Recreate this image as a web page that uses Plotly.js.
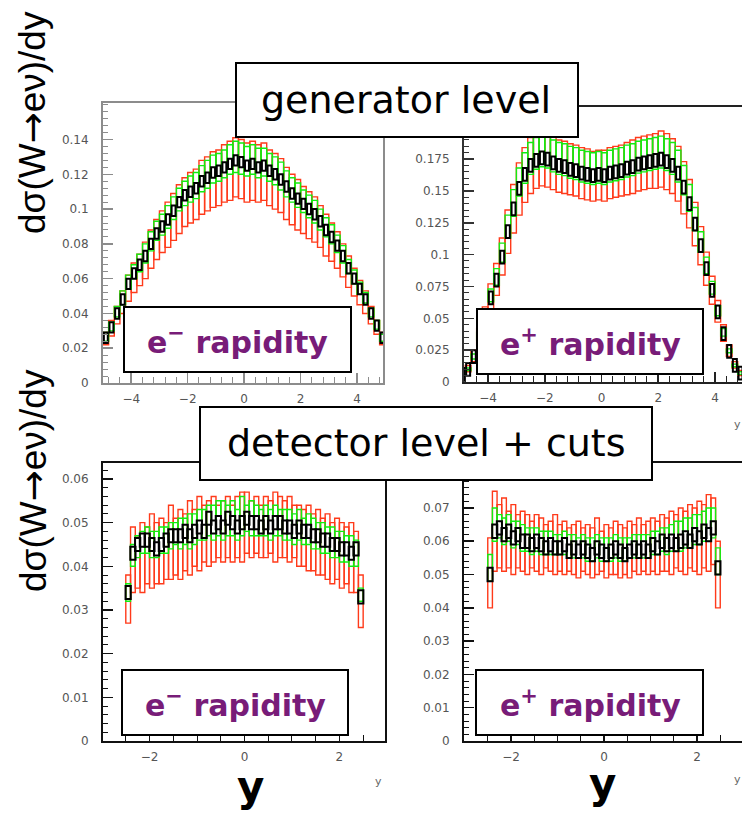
<!DOCTYPE html>
<html>
<head>
<meta charset="utf-8">
<script src="https://cdn.plot.ly/plotly-3.0.1.min.js"></script>
<style>
  html, body { margin: 0; padding: 0; background: #ffffff; }
  #chart { width: 742px; height: 813px; }
</style>
</head>
<body>
<div id="chart"></div>
<script>
// ---------------- DATA ----------------
// bin centres
const binsTop = [-4.9,-4.7,-4.5,-4.3,-4.1,-3.9,-3.7,-3.5,-3.3,-3.1,
                 -2.9,-2.7,-2.5,-2.3,-2.1,-1.9,-1.7,-1.5,-1.3,-1.1,
                 -0.9,-0.7,-0.5,-0.3,-0.1,0.1,0.3,0.5,0.7,0.9,
                 1.1,1.3,1.5,1.7,1.9,2.1,2.3,2.5,2.7,2.9,
                 3.1,3.3,3.5,3.7,3.9,4.1,4.3,4.5,4.7,4.9];
const binsBot = [-2.45,-2.35,-2.25,-2.15,-2.05,-1.95,-1.85,-1.75,-1.65,-1.55,
                 -1.45,-1.35,-1.25,-1.15,-1.05,-0.95,-0.85,-0.75,-0.65,-0.55,
                 -0.45,-0.35,-0.25,-0.15,-0.05,0.05,0.15,0.25,0.35,0.45,
                 0.55,0.65,0.75,0.85,0.95,1.05,1.15,1.25,1.35,1.45,
                 1.55,1.65,1.75,1.85,1.95,2.05,2.15,2.25,2.35,2.45];

// generator level, e- rapidity
const tlCentral = [.026,.032,.040,.048,.057,.063,.068,.073,.080,.086,
                   .090,.094,.099,.104,.108,.110,.112,.116,.118,.121,
                   .122,.124,.126,.128,.127,.125,.126,.124,.125,.122,
                   .120,.117,.113,.109,.106,.103,.100,.097,.093,.088,
                   .084,.079,.073,.066,.060,.054,.048,.040,.033,.026];
const tlRedLo = [.022,.027,.034,.040,.047,.052,.056,.060,.066,.071,
                 .075,.078,.082,.086,.090,.092,.094,.097,.099,.101,
                 .102,.104,.105,.107,.106,.104,.105,.104,.105,.102,
                 .100,.098,.094,.091,.088,.086,.083,.081,.078,.073,
                 .070,.066,.061,.055,.050,.045,.040,.034,.028,.022];
const tlRedHi = [.029,.036,.044,.053,.062,.069,.074,.081,.088,.094,
                 .099,.104,.109,.114,.118,.121,.123,.128,.130,.133,
                 .134,.137,.139,.141,.140,.138,.139,.137,.138,.134,
                 .132,.129,.124,.120,.117,.113,.110,.107,.102,.097,
                 .092,.087,.080,.073,.066,.059,.053,.044,.036,.029];
const tlGreenLo = [.024,.030,.038,.045,.054,.060,.064,.069,.076,.082,
                   .085,.089,.094,.099,.102,.104,.106,.110,.112,.115,
                   .116,.118,.120,.121,.120,.119,.120,.118,.119,.116,
                   .114,.111,.107,.104,.101,.098,.095,.092,.088,.084,
                   .080,.075,.069,.063,.057,.051,.046,.038,.031,.024];
const tlGreenHi = [.029,.035,.044,.053,.062,.068,.074,.080,.087,.093,
                   .097,.102,.107,.112,.116,.119,.121,.125,.128,.131,
                   .132,.134,.137,.139,.138,.136,.137,.135,.135,.132,
                   .130,.127,.122,.118,.115,.111,.108,.105,.100,.095,
                   .091,.085,.079,.071,.065,.058,.052,.043,.036,.028];

// generator level, e+ rapidity
const trCentral = [.006,.010,.020,.035,.050,.066,.080,.098,.118,.136,
                   .152,.163,.170,.174,.176,.175,.172,.170,.169,.167,
                   .166,.164,.163,.162,.163,.162,.164,.165,.166,.168,
                   .169,.171,.172,.173,.174,.175,.173,.170,.164,.153,
                   .140,.124,.107,.089,.072,.055,.038,.024,.013,.007];
const trRedLo = [.004,.008,.016,.029,.042,.056,.068,.084,.101,.117,
                 .131,.141,.148,.152,.154,.153,.151,.149,.148,.147,
                 .146,.144,.143,.142,.143,.142,.144,.145,.146,.147,
                 .148,.150,.151,.152,.152,.153,.151,.148,.142,.132,
                 .121,.107,.092,.076,.061,.047,.032,.020,.011,.005];
const trRedHi = [.008,.013,.025,.042,.059,.077,.093,.113,.135,.155,
                 .172,.184,.192,.196,.198,.196,.193,.190,.189,.187,
                 .186,.184,.183,.181,.182,.182,.184,.185,.186,.188,
                 .190,.192,.193,.194,.195,.197,.195,.191,.185,.173,
                 .159,.141,.122,.102,.083,.064,.045,.029,.016,.009];
const trGreenLo = [.005,.009,.018,.033,.047,.063,.076,.094,.113,.130,
                   .146,.156,.163,.167,.169,.168,.165,.163,.162,.160,
                   .159,.157,.156,.155,.156,.155,.157,.158,.159,.161,
                   .162,.164,.165,.166,.167,.168,.166,.163,.157,.147,
                   .134,.119,.102,.085,.069,.052,.036,.023,.012,.006];
const trGreenHi = [.007,.011,.022,.039,.055,.073,.089,.109,.131,.151,
                   .168,.180,.188,.192,.194,.193,.190,.188,.187,.185,
                   .184,.182,.181,.180,.181,.180,.182,.183,.184,.186,
                   .187,.189,.190,.191,.192,.193,.191,.188,.182,.170,
                   .155,.137,.118,.098,.079,.060,.042,.026,.014,.008];

// detector level + cuts, e- rapidity
const blCentral = [.034,.043,.045,.046,.046,.045,.044,.045,.046,.047,
                   .047,.047,.048,.047,.048,.049,.048,.051,.049,.050,
                   .049,.051,.050,.049,.050,.051,.050,.050,.049,.050,
                   .049,.050,.050,.049,.049,.048,.049,.048,.048,.047,
                   .047,.046,.046,.045,.045,.044,.044,.043,.044,.033];
const blRedLo = [.027,.034,.035,.034,.036,.035,.036,.036,.037,.037,
                 .038,.037,.039,.038,.040,.039,.041,.040,.041,.042,
                 .041,.042,.041,.042,.041,.043,.042,.043,.042,.042,
                 .043,.041,.042,.042,.041,.042,.040,.040,.039,.039,
                 .038,.038,.037,.036,.037,.035,.036,.034,.034,.026];
const blRedHi = [.038,.049,.047,.050,.049,.052,.050,.051,.050,.054,
                 .051,.053,.052,.055,.053,.056,.054,.055,.056,.054,
                 .055,.056,.054,.056,.057,.057,.055,.056,.054,.056,
                 .055,.057,.056,.055,.056,.054,.054,.053,.054,.052,
                 .053,.051,.052,.050,.051,.050,.049,.050,.048,.038];
const blGreenLo = [.032,.040,.042,.043,.043,.042,.042,.043,.043,.044,
                   .045,.044,.045,.044,.045,.046,.046,.047,.046,.047,
                   .046,.047,.047,.046,.047,.048,.047,.047,.047,.047,
                   .046,.047,.047,.046,.046,.045,.046,.045,.045,.044,
                   .044,.043,.043,.042,.042,.041,.041,.040,.040,.032];
const blGreenHi = [.036,.045,.047,.048,.049,.048,.048,.049,.049,.050,
                   .050,.051,.051,.052,.052,.053,.053,.054,.054,.055,
                   .055,.054,.055,.053,.056,.054,.055,.054,.053,.054,
                   .053,.054,.053,.053,.053,.052,.053,.051,.052,.051,
                   .050,.050,.049,.049,.048,.048,.047,.047,.046,.035];

// detector level + cuts, e+ rapidity
const brCentral = [.050,.063,.064,.062,.063,.061,.062,.060,.060,.059,
                   .060,.059,.058,.059,.058,.058,.059,.057,.058,.057,
                   .058,.057,.056,.058,.057,.056,.057,.058,.057,.056,
                   .057,.058,.057,.058,.057,.059,.058,.060,.059,.060,
                   .059,.060,.061,.060,.062,.061,.063,.062,.064,.052];
const brRedLo = [.040,.051,.052,.051,.052,.050,.052,.051,.050,.052,
                 .051,.050,.052,.051,.050,.051,.050,.051,.050,.049,
                 .051,.050,.049,.050,.051,.049,.050,.050,.049,.050,
                 .049,.051,.050,.051,.050,.051,.050,.051,.051,.050,
                 .052,.051,.050,.052,.051,.050,.052,.051,.053,.040];
const brRedHi = [.061,.075,.071,.073,.069,.071,.068,.069,.068,.066,
                 .068,.067,.065,.066,.068,.065,.066,.064,.065,.066,
                 .064,.065,.064,.067,.063,.065,.064,.066,.065,.064,
                 .066,.065,.067,.065,.066,.067,.066,.068,.067,.069,
                 .068,.070,.069,.071,.070,.072,.071,.074,.073,.060];
const brGreenLo = [.048,.060,.061,.059,.060,.058,.059,.057,.057,.056,
                   .057,.056,.056,.056,.056,.056,.056,.055,.055,.055,
                   .055,.054,.054,.055,.054,.054,.054,.055,.054,.054,
                   .055,.055,.055,.055,.055,.056,.056,.057,.056,.057,
                   .057,.057,.058,.058,.059,.059,.060,.060,.061,.050];
const brGreenHi = [.056,.070,.068,.067,.068,.066,.066,.065,.064,.064,
                   .064,.063,.063,.063,.062,.062,.063,.062,.062,.061,
                   .062,.061,.061,.062,.061,.061,.061,.062,.061,.061,
                   .061,.062,.062,.062,.062,.063,.063,.064,.064,.065,
                   .066,.066,.067,.067,.068,.068,.069,.070,.070,.058];

// half-height of the black (central) error boxes, per panel
const centralErr = [0.003, 0.005, 0.0015, 0.002];

// labelled y ticks of the generator-level e- panel
const tlYTicks = [0, 0.02, 0.04, 0.06, 0.08, 0.1, 0.12, 0.14];

// texts
const yTitle = 'dσ(W<span style="font-family:DejaVu Sans">→</span>eν)/dy';
const levelLabels = ['generator level', 'detector level + cuts'];
const panelLabels = ['e<sup>−</sup> rapidity', 'e<sup>+</sup> rapidity', 'e<sup>−</sup> rapidity', 'e<sup>+</sup> rapidity'];
const xTitleBig = 'y';

// ---------------- HELPERS ----------------
const W = 742, H = 813;
const PX = p => p / W;
const PY = p => 1 - p / H;
const RED = '#ff3a1a', GREEN = '#11ee11', PURPLE = '#781c78';

function band(bins, lo, hi, width, color, lw, xa, ya) {
  return {
    type: 'bar', x: bins, base: lo, y: hi.map((h, i) => h - lo[i]),
    width: width, xaxis: xa, yaxis: ya, hoverinfo: 'skip',
    marker: { color: 'rgba(0,0,0,0)', line: { color: color, width: lw } }
  };
}
function centralBars(bins, c, err, width, xa, ya) {
  return {
    type: 'bar', x: bins, base: c.map(v => v - err), y: c.map(() => 2 * err),
    width: width, xaxis: xa, yaxis: ya, hoverinfo: 'skip',
    marker: { color: 'rgba(0,0,0,0)', line: { color: '#000', width: 2 } }
  };
}

const traces = [
  band(binsTop, tlRedLo, tlRedHi, 0.2, RED, 1.4, 'x', 'y'),
  band(binsTop, tlGreenLo, tlGreenHi, 0.2, GREEN, 1.4, 'x', 'y'),
  centralBars(binsTop, tlCentral, centralErr[0], 0.14, 'x', 'y'),

  band(binsTop, trRedLo, trRedHi, 0.2, RED, 1.4, 'x2', 'y2'),
  band(binsTop, trGreenLo, trGreenHi, 0.2, GREEN, 1.4, 'x2', 'y2'),
  centralBars(binsTop, trCentral, centralErr[1], 0.14, 'x2', 'y2'),

  band(binsBot, blRedLo, blRedHi, 0.1, RED, 1.4, 'x3', 'y3'),
  band(binsBot, blGreenLo, blGreenHi, 0.1, GREEN, 1.4, 'x3', 'y3'),
  centralBars(binsBot, blCentral, centralErr[2], 0.11, 'x3', 'y3'),

  band(binsBot, brRedLo, brRedHi, 0.1, RED, 1.4, 'x4', 'y4'),
  band(binsBot, brGreenLo, brGreenHi, 0.1, GREEN, 1.4, 'x4', 'y4'),
  centralBars(binsBot, brCentral, centralErr[3], 0.11, 'x4', 'y4')
];

const tickFont = { family: 'DejaVu Sans, sans-serif', size: 12, color: '#555' };

function xAx(domain, range, anchor, lineColor, minorDt) {
  return {
    domain: domain, range: range, anchor: anchor, showgrid: false, zeroline: false,
    showline: true, linecolor: lineColor, linewidth: 2, mirror: true,
    ticks: 'inside', ticklen: 10, tickwidth: 1.5, tickcolor: lineColor,
    tick0: 0, dtick: 2, tickfont: tickFont, ticklabelstandoff: 4,
    minor: { ticks: 'inside', ticklen: 6, dtick: minorDt, tickcolor: lineColor, tickwidth: 1, showgrid: false },
    fixedrange: true
  };
}
function yAx(domain, range, anchor, lineColor, dt, minorDt, mirror) {
  return {
    domain: domain, range: range, anchor: anchor, showgrid: false, zeroline: false,
    showline: true, linecolor: lineColor, linewidth: 2, mirror: mirror,
    ticks: 'inside', ticklen: 10, tickwidth: 1.5, tickcolor: lineColor,
    tick0: 0, dtick: dt, tickfont: tickFont, ticklabelstandoff: 10,
    minor: { ticks: 'inside', ticklen: 5, dtick: minorDt, tickcolor: lineColor, tickwidth: 1, showgrid: false },
    fixedrange: true
  };
}

const topY1 = [PY(383), PY(103)], topY2 = [PY(382), PY(107)], botY = [PY(741), PY(463)];

const yaxis1 = yAx(topY1, [0, 0.161], 'x', '#8c8c8c', 0.02, 0.004, true);
yaxis1.tickmode = 'array';
yaxis1.tickvals = tlYTicks;

const layout = {
  width: W, height: H, margin: { l: 0, r: 0, t: 0, b: 0, pad: 0 },
  paper_bgcolor: '#ffffff', plot_bgcolor: 'rgba(0,0,0,0)',
  showlegend: false, barmode: 'overlay',
  xaxis:  xAx([PX(103), PX(383)], [-5.0, 4.92], 'y', '#8c8c8c', 0.4),
  yaxis:  yaxis1,
  xaxis2: xAx([PX(464), 1], [-4.846, 4.952], 'y2', '#222', 0.4),
  yaxis2: yAx(topY2, [0, 0.2159], 'x2', '#333', 0.025, 0.005, false),
  xaxis3: xAx([PX(103), PX(385)], [-2.98, 2.96], 'y3', '#111', 0.5),
  yaxis3: yAx(botY, [0, 0.06366], 'x3', '#111', 0.01, 0.002, true),
  xaxis4: xAx([PX(464), 1], [-3.011, 2.968], 'y4', '#111', 0.5),
  yaxis4: yAx(botY, [0, 0.0835], 'x4', '#111', 0.01, 0.002, false),
  shapes: [], annotations: []
};

// white label boxes with black frames
function box(x0, y0, x1, y1) {
  layout.shapes.push({ type: 'rect', xref: 'paper', yref: 'paper', layer: 'above',
    x0: PX(x0), x1: PX(x1), y0: PY(y1), y1: PY(y0),
    fillcolor: '#ffffff', line: { color: '#000', width: 2 } });
}
function label(text, x, y, font, extra) {
  layout.annotations.push(Object.assign({ text: text, xref: 'paper', yref: 'paper',
    x: PX(x), y: PY(y), xanchor: 'center', yanchor: 'middle', showarrow: false, font: font }, extra || {}));
}

box(236, 63, 578, 137);
box(200, 407, 652, 480);
box(124, 307, 351, 372);
box(477, 309, 703, 374);
box(122, 670, 348, 735);
box(476, 670, 703, 735);

const bigFont = { family: 'DejaVu Sans, sans-serif', size: 38, color: '#000' };
label(levelLabels[0], 406, 100, bigFont);
label(levelLabels[1], 426, 443, bigFont);

const purpleFont = { family: 'DejaVu Sans, sans-serif', size: 30, color: PURPLE, weight: 'bold' };
label('<b>' + panelLabels[0] + '</b>', 237, 340, purpleFont);
label('<b>' + panelLabels[1] + '</b>', 590, 342, purpleFont);
label('<b>' + panelLabels[2] + '</b>', 235, 703, purpleFont);
label('<b>' + panelLabels[3] + '</b>', 590, 703, purpleFont);

const yTitleFont = { family: 'Liberation Sans, Arial, sans-serif', size: 37, color: '#000' };
label(yTitle, 33, 123, yTitleFont, { textangle: -90 });
label(yTitle, 33, 481, yTitleFont, { textangle: -90 });

const yBigFont = { family: 'DejaVu Sans, sans-serif', size: 42, color: '#000' };
label('<b>' + xTitleBig + '</b>', 250, 813, yBigFont, { yanchor: 'bottom' });
label('<b>' + xTitleBig + '</b>', 602, 810, yBigFont, { yanchor: 'bottom' });

const ySmallFont = { family: 'DejaVu Sans, sans-serif', size: 11, color: '#666' };
label(xTitleBig, 378, 781, ySmallFont);
label(xTitleBig, 737, 424, ySmallFont);
label(xTitleBig, 737, 779, ySmallFont);

Plotly.newPlot('chart', traces, layout, { displayModeBar: false, staticPlot: true });
</script>
</body>
</html>
